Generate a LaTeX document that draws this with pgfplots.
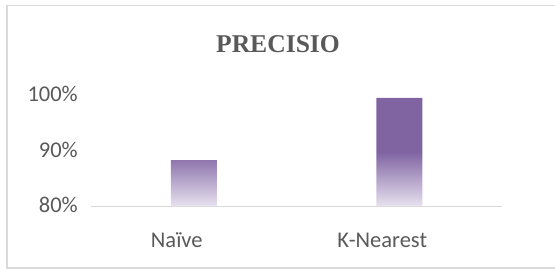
\documentclass[border=0pt]{standalone}
\usepackage{pgfplots}
\pgfplotsset{compat=1.18}
\usepackage{fontspec}
\setmainfont{Carlito}
\newfontfamily\titlefont{Liberation Serif}
\definecolor{barP}{HTML}{8064A2}
\definecolor{barL}{HTML}{E8E2F0}
\definecolor{txtG}{HTML}{595959}
\definecolor{lineG}{HTML}{D9D9D9}
\begin{document}
\begin{tikzpicture}
\useasboundingbox (0,0) rectangle (555bp,269bp);
\draw[lineG, line width=1.3bp] (7bp,263.5bp) -- (7bp,1bp) -- (560bp,1bp);
\draw[lineG, line width=1.3bp] (7bp,263.5bp) -- (560bp,263.5bp);
\node[anchor=base, inner sep=0pt, text=txtG, font=\titlefont\bfseries\fontsize{25.6bp}{30bp}\selectfont] at (278bp,216bp) {PRECISIO};
\begin{axis}[
  at={(91bp,62.5bp)}, anchor=south west,
  scale only axis, width=411bp, height=112bp,
  xmin=-0.5, xmax=1.5, ymin=80, ymax=100,
  xtick={0,1}, xticklabels={Naïve,K-Nearest},
  ytick={80,90,100}, yticklabels={80\%,90\%,100\%},
  major tick length=0pt,
  axis x line*=bottom, axis y line*=left,
  axis line style={-},
  x axis line style={draw=lineG, line width=1.3bp},
  y axis line style={draw=none},
  tick label style={text=txtG, font=\fontsize{22.5bp}{27bp}\selectfont, inner sep=0pt},
  xticklabel style={anchor=base, yshift=-40.5bp, xshift=-17bp},
  yticklabel style={anchor=base east, xshift=-13bp, yshift=-6.5bp},
  clip=false,
]
\addplot[ybar, bar width=46bp, draw=none, top color=barP, bottom color=barL, middle color=barP]
  coordinates {(0,88.3) (1,99.4)};
\end{axis}
\end{tikzpicture}
\end{document}
